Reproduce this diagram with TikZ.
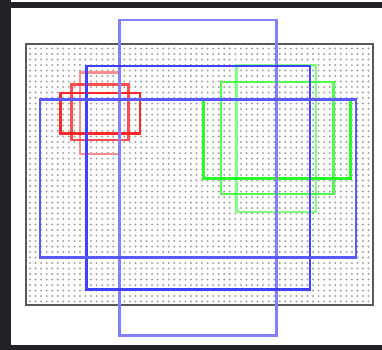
\documentclass[tikz,border=0pt]{standalone}
\definecolor{framedark}{RGB}{32,34,38}
\definecolor{dotgray}{RGB}{160,160,160}

\begin{document}
\begin{tikzpicture}[x=1bp,y=-1bp,
    anchorbox/.style={line width=2.1bp},
    framebar/.style={fill=framedark}]
  \useasboundingbox (0,0) rectangle (382,350);
  \fill[white] (0,0) rectangle (382,350);
  % Screen frame
  \fill[framebar] (0,2) rectangle (382,8);
  \fill[framebar] (0,0) rectangle (11,350);
  \fill[framebar] (0,345) rectangle (382,350);
  % Feature map grid
  \foreach \i in {0,...,61} {
    \foreach \j in {0,...,46} {
      \fill[dotgray] (30+5.55*\i,48.5+5.5*\j) circle (1.1);
    }
  }
  \draw[line width=2.5bp,black!65] (26,44) rectangle (373,305);
  % Red anchors
  \draw[anchorbox,red!45] (80,72.5) rectangle (120,154);
  \draw[anchorbox,red!70] (71.5,84.5) rectangle (128.5,140);
  \draw[anchorbox,red!85] (60.5,93) rectangle (140,133.5);
  % Green anchors
  \draw[anchorbox,green!50] (236.5,65.5) rectangle (316,212);
  \draw[anchorbox,green!70] (221,82) rectangle (333.5,194);
  \draw[anchorbox,green!85] (203.5,99.5) rectangle (350.5,178.5);
  % Blue anchors
  \draw[anchorbox,blue!50] (119.5,20) rectangle (276.5,335.5);
  \draw[anchorbox,blue!75] (86.5,66) rectangle (310,289.5);
  \draw[anchorbox,blue!65] (40,99.5) rectangle (356,257.5);
\end{tikzpicture}
\end{document}
